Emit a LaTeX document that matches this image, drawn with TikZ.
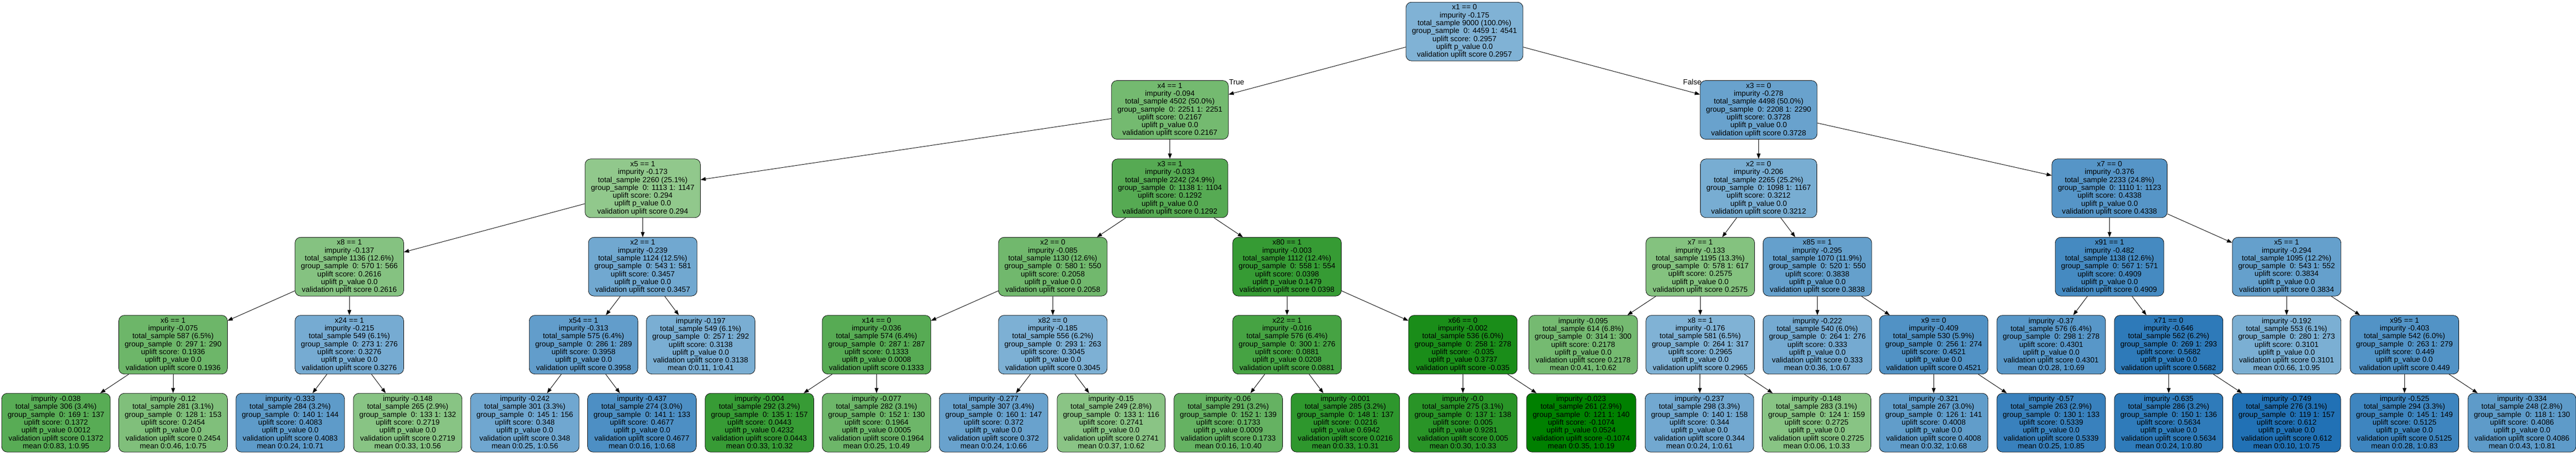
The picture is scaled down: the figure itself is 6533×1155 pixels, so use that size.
\documentclass[tikz,border=0pt]{standalone}
\usepackage{fontspec}
\setmainfont{Liberation Sans}
\usetikzlibrary{arrows.meta}
\definecolor{lgreen}{RGB}{145,200,140}
\definecolor{dgreen}{RGB}{0,128,0}
\definecolor{lblue}{RGB}{128,178,213}
\definecolor{dblue}{RGB}{33,113,181}
\newcommand{\splitnode}[8]{#1\\impurity #2\\total\_sample #3 (#4\%)\\group\_sample\ \ 0: #5 1: #6\\uplift score: #7\\uplift p\_value #8\\validation uplift score #7}
\newcommand{\leafnode}[9]{impurity #1\\total\_sample #2 (#3\%)\\group\_sample\ \ 0: #4 1: #5\\uplift score: #6\\uplift p\_value #7\\validation uplift score #6\\mean 0:#8, 1:#9}
\begin{document}
\begin{tikzpicture}
[x=1pt, y=-1pt, font=\fontsize{19}{20}\selectfont,
       tnode/.style={draw, line width=1pt, rounded corners=14pt, align=center,
                     inner xsep=15pt, inner ysep=2pt, minimum height=149pt},
       gnode/.style={tnode, fill=dgreen!#1!lgreen},
       bnode/.style={tnode, fill=dblue!#1!lblue},
       branch/.style={-{Triangle[length=13pt,width=9.5pt]}, line width=1.2pt}]
  \useasboundingbox (0,0) rectangle (6533,1155);
  \node[bnode=0] (r) at (3714,80) {\splitnode{x1 == 0}{-0.175}{9000}{100.0}{4459}{4541}{0.2957}{0.0}}; % root
  \node[gnode=20] (ra) at (2967,279) {\splitnode{x4 == 1}{-0.094}{4502}{50.0}{2251}{2251}{0.2167}{0.0}};
  \node[bnode=24] (rb) at (4460,279) {\splitnode{x3 == 0}{-0.278}{4498}{50.0}{2208}{2290}{0.3728}{0.0}};
  \node[gnode=0] (raa) at (1630,478) {\splitnode{x5 == 1}{-0.173}{2260}{25.1}{1113}{1147}{0.294}{0.0}};
  \node[gnode=41] (rab) at (2967,478) {\splitnode{x3 == 1}{-0.033}{2242}{24.9}{1138}{1104}{0.1292}{0.0}};
  \node[bnode=8] (rba) at (4460,478) {\splitnode{x2 == 0}{-0.206}{2265}{25.2}{1098}{1167}{0.3212}{0.0}};
  \node[bnode=44] (rbb) at (5350,478) {\splitnode{x7 == 0}{-0.376}{2233}{24.8}{1110}{1123}{0.4338}{0.0}};
  % level 3
  \node[gnode=8] (raaa) at (886,677) {\splitnode{x8 == 1}{-0.137}{1136}{12.6}{570}{566}{0.2616}{0.0}};
  \node[bnode=16] (raab) at (1630,677) {\splitnode{x2 == 1}{-0.239}{1124}{12.5}{543}{581}{0.3457}{0.0}};
  \node[gnode=22] (raba) at (2670,677) {\splitnode{x2 == 0}{-0.085}{1130}{12.6}{580}{550}{0.2058}{0.0}};
  \node[gnode=63] (rabb) at (3264,677) {\splitnode{x80 == 1}{-0.003}{1112}{12.4}{558}{554}{0.0398}{0.1479}};
  \node[gnode=9] (rbaa) at (4312,677) {\splitnode{x7 == 1}{-0.133}{1195}{13.3}{578}{617}{0.2575}{0.0}};
  \node[bnode=28] (rbab) at (4609,677) {\splitnode{x85 == 1}{-0.295}{1070}{11.9}{520}{550}{0.3838}{0.0}};
  \node[bnode=62] (rbba) at (5350,677) {\splitnode{x91 == 1}{-0.482}{1138}{12.6}{567}{571}{0.4909}{0.0}};
  \node[bnode=28] (rbbb) at (5799,677) {\splitnode{x5 == 1}{-0.294}{1095}{12.2}{543}{552}{0.3834}{0.0}};
  % level 4
  \node[gnode=25] (raaaa) at (439,875) {\splitnode{x6 == 1}{-0.075}{587}{6.5}{297}{290}{0.1936}{0.0}};
  \node[bnode=10] (raaab) at (886,875) {\splitnode{x24 == 1}{-0.215}{549}{6.1}{273}{276}{0.3276}{0.0}};
  \node[bnode=32] (raaba) at (1480,875) {\splitnode{x54 == 1}{-0.313}{575}{6.4}{286}{289}{0.3958}{0.0}};
  \node[bnode=6] (raabb) at (1777,875) {\leafnode{-0.197}{549}{6.1}{257}{292}{0.3138}{0.0}{0.11}{0.41}};
  \node[gnode=40] (rabaa) at (2223,875) {\splitnode{x14 == 0}{-0.036}{574}{6.4}{287}{287}{0.1333}{0.0008}};
  \node[bnode=3] (rabab) at (2670,875) {\splitnode{x82 == 0}{-0.185}{556}{6.2}{293}{263}{0.3045}{0.0}};
  \node[gnode=52] (rabba) at (3264,875) {\splitnode{x22 == 1}{-0.016}{576}{6.4}{300}{276}{0.0881}{0.0208}};
  \node[gnode=82] (rabbb) at (3710,875) {\splitnode{x66 == 0}{-0.002}{536}{6.0}{258}{278}{-0.035}{0.3737}};
  \node[gnode=19] (rbaaa) at (4015,875) {\leafnode{-0.095}{614}{6.8}{314}{300}{0.2178}{0.0}{0.41}{0.62}};
  \node[bnode=0] (rbaab) at (4312,875) {\splitnode{x8 == 1}{-0.176}{581}{6.5}{264}{317}{0.2965}{0.0}};
  \node[bnode=12] (rbaba) at (4609,875) {\leafnode{-0.222}{540}{6.0}{264}{276}{0.333}{0.0}{0.36}{0.67}};
  \node[bnode=49] (rbabb) at (4904,875) {\splitnode{x9 == 0}{-0.409}{530}{5.9}{256}{274}{0.4521}{0.0}};
  \node[bnode=42] (rbbaa) at (5202,875) {\leafnode{-0.37}{576}{6.4}{298}{278}{0.4301}{0.0}{0.28}{0.69}};
  \node[bnode=86] (rbbab) at (5500,875) {\splitnode{x71 == 0}{-0.646}{562}{6.2}{269}{293}{0.5682}{0.0}};
  \node[bnode=5] (rbbba) at (5799,875) {\leafnode{-0.192}{553}{6.1}{280}{273}{0.3101}{0.0}{0.66}{0.95}};
  \node[bnode=48] (rbbbb) at (6098,875) {\splitnode{x95 == 1}{-0.403}{542}{6.0}{263}{279}{0.449}{0.0}};
  % leaves
  \node[gnode=39] (raaaaa) at (142,1073) {\leafnode{-0.038}{306}{3.4}{169}{137}{0.1372}{0.0012}{0.83}{0.95}};
  \node[gnode=12] (raaaab) at (439,1073) {\leafnode{-0.12}{281}{3.1}{128}{153}{0.2454}{0.0}{0.46}{0.75}};
  \node[bnode=36] (raaaba) at (736,1073) {\leafnode{-0.333}{284}{3.2}{140}{144}{0.4083}{0.0}{0.24}{0.71}};
  \node[gnode=6] (raaabb) at (1034,1073) {\leafnode{-0.148}{265}{2.9}{133}{132}{0.2719}{0.0}{0.33}{0.56}};
  \node[bnode=17] (raabaa) at (1331,1073) {\leafnode{-0.242}{301}{3.3}{145}{156}{0.348}{0.0}{0.25}{0.56}};
  \node[bnode=54] (raabab) at (1628,1073) {\leafnode{-0.437}{274}{3.0}{141}{133}{0.4677}{0.0}{0.16}{0.68}};
  \node[gnode=62] (rabaaa) at (1926,1073) {\leafnode{-0.004}{292}{3.2}{135}{157}{0.0443}{0.4232}{0.33}{0.32}};
  \node[gnode=25] (rabaab) at (2223,1073) {\leafnode{-0.077}{282}{3.1}{152}{130}{0.1964}{0.0005}{0.25}{0.49}};
  \node[bnode=24] (rababa) at (2520,1073) {\leafnode{-0.277}{307}{3.4}{160}{147}{0.372}{0.0}{0.24}{0.66}};
  \node[gnode=5] (rababb) at (2818,1073) {\leafnode{-0.15}{249}{2.8}{133}{116}{0.2741}{0.0}{0.37}{0.62}};
  \node[gnode=30] (rabbaa) at (3115,1073) {\leafnode{-0.06}{291}{3.2}{152}{139}{0.1733}{0.0009}{0.16}{0.40}};
  \node[gnode=68] (rabbab) at (3412,1073) {\leafnode{-0.001}{285}{3.2}{148}{137}{0.0216}{0.6942}{0.33}{0.31}};
  \node[gnode=72] (rabbba) at (3710,1073) {\leafnode{-0.0}{275}{3.1}{137}{138}{0.005}{0.9281}{0.30}{0.33}};
  \node[gnode=100] (rabbbb) at (4010,1073) {\leafnode{-0.023}{261}{2.9}{121}{140}{-0.1074}{0.0524}{0.35}{0.19}};
  \node[bnode=15] (rbaaba) at (4310,1073) {\leafnode{-0.237}{298}{3.3}{140}{158}{0.344}{0.0}{0.24}{0.61}};
  \node[gnode=6] (rbaabb) at (4607,1073) {\leafnode{-0.148}{283}{3.1}{124}{159}{0.2725}{0.0}{0.06}{0.33}};
  \node[bnode=33] (rbabba) at (4904,1073) {\leafnode{-0.321}{267}{3.0}{126}{141}{0.4008}{0.0}{0.32}{0.68}};
  \node[bnode=75] (rbabbb) at (5202,1073) {\leafnode{-0.57}{263}{2.9}{130}{133}{0.5339}{0.0}{0.25}{0.85}};
  \node[bnode=85] (rbbaba) at (5500,1073) {\leafnode{-0.635}{286}{3.2}{150}{136}{0.5634}{0.0}{0.24}{0.80}};
  \node[bnode=100] (rbbabb) at (5799,1073) {\leafnode{-0.749}{276}{3.1}{119}{157}{0.612}{0.0}{0.10}{0.75}};
  \node[bnode=69] (rbbbba) at (6098,1073) {\leafnode{-0.525}{294}{3.3}{145}{149}{0.5125}{0.0}{0.28}{0.83}};
  \node[bnode=36] (rbbbbb) at (6396,1073) {\leafnode{-0.334}{248}{2.8}{118}{130}{0.4086}{0.0}{0.43}{0.81}};
  \foreach \p/\c in {r/ra, r/rb, ra/raa, ra/rab, rb/rba, rb/rbb,
      raa/raaa, raa/raab, rab/raba, rab/rabb, rba/rbaa, rba/rbab, rbb/rbba, rbb/rbbb,
      raaa/raaaa, raaa/raaab, raab/raaba, raab/raabb, raba/rabaa, raba/rabab,
      rabb/rabba, rabb/rabbb, rbaa/rbaaa, rbaa/rbaab, rbab/rbaba, rbab/rbabb,
      rbba/rbbaa, rbba/rbbab, rbbb/rbbba, rbbb/rbbbb,
      raaaa/raaaaa, raaaa/raaaab, raaab/raaaba, raaab/raaabb, raaba/raabaa, raaba/raabab,
      rabaa/rabaaa, rabaa/rabaab, rabab/rababa, rabab/rababb, rabba/rabbaa, rabba/rabbab,
      rabbb/rabbba, rabbb/rabbbb, rbaab/rbaaba, rbaab/rbaabb, rbabb/rbabba, rbabb/rbabbb,
      rbbab/rbbaba, rbbab/rbbabb, rbbbb/rbbbba, rbbbb/rbbbbb}
    \draw[branch] (\p) -- (\c);
  \node (tlab) [anchor=west, inner sep=0pt] at ([xshift=1pt,yshift=-4pt]ra.north east) {True};
  \node (flab) [anchor=east, inner sep=0pt] at ([xshift=4pt,yshift=-4pt]rb.north west) {False};
\end{tikzpicture}
\end{document}
